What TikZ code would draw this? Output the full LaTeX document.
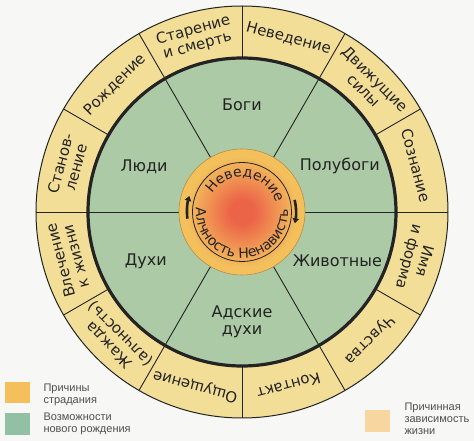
\documentclass[tikz,border=0pt]{standalone}
\usepackage{fontspec}
\setmainfont{DejaVu Sans}
\newfontfamily\legendfont{Liberation Sans}
\usetikzlibrary{decorations.text, arrows.meta}
\definecolor{paper}{RGB}{247,247,245}
\definecolor{ringyellow}{RGB}{243,222,152}
\definecolor{realmgreen}{RGB}{172,202,166}
\definecolor{legendgreen}{RGB}{145,192,165}
\definecolor{causeorange}{RGB}{243,192,92}
\definecolor{glowred}{RGB}{236,100,72}
\definecolor{chainpeach}{RGB}{248,214,160}
\definecolor{inkgray}{RGB}{35,35,35}
\pgfdeclareradialshading{sunglow}{\pgfpoint{0bp}{0bp}}{color(0bp)=(glowred); color(5bp)=(glowred); color(22bp)=(causeorange); color(50bp)=(causeorange)}

\begin{document}
\begin{tikzpicture}[x=1pt,y=1pt]
	\tikzstyle{sectorlabel} = [font=\fontsize{16}{17}\selectfont, text=inkgray, align=center]
	\tikzstyle{linklabel} = [font=\fontsize{15}{16}\selectfont, text=inkgray, align=center]
	\tikzstyle{legendlabel} = [font=\legendfont\fontsize{11}{12}\selectfont, text=inkgray!80, align=left, anchor=west]
	\tikzstyle{swatch} = [minimum width=25pt, minimum height=21pt, inner sep=0pt]
	\tikzstyle{divider} = [draw=inkgray, line width=0.9pt]
	\tikzstyle{turn} = [-{Triangle[length=5pt,width=6.5pt]}, line width=2.6pt, inkgray]
	\useasboundingbox (-242,-229) rectangle (232,212);
	\fill[paper] (-242,-229) rectangle (232,212);
	\filldraw[fill=ringyellow, draw=inkgray, line width=1pt] (0,0) circle (206);
	\filldraw[fill=realmgreen, draw=inkgray, line width=3.2pt] (0,0) circle (154);
	\foreach \a in {0,30,...,330}
		\draw[divider] (\a:154) -- (\a:206);
	\foreach \a in {0,60,...,300}
		\draw[divider] (\a:63) -- (\a:154);
	\shade[shading=sunglow] (0,0) circle (63);
	\draw[causeorange!75!black, line width=0.6pt] (0,0) circle (63);
	\draw[inkgray, line width=0.8pt] (0,0) circle (49.5);
	\path[decorate, decoration={text along path, text align=center,
		text={|\color{inkgray}\fontsize{14}{14}\selectfont|Неведение}}] (146:35) arc (146:18:35);
	\path[decorate, decoration={text along path, text align=center,
		text={|\color{inkgray}\fontsize{14}{14}\selectfont|Алчность Ненависть}}] (158:46) arc (158:380:46);
	\draw[turn] (187:55) arc (187:163:55);
	\draw[turn] (13:54) arc (13:-12:54);
	\node[sectorlabel] (gods) at (90:107) {Боги};
	\node[sectorlabel] (demigods) at (25:108) {Полубоги};
	\node[sectorlabel] (animals) at (-27:107) {Животные};
	\node[sectorlabel] (hells) at (-90:110) {Адские\\духи};
	\node[sectorlabel] (ghosts) at (-153:108) {Духи};
	\node[sectorlabel] (humans) at (155:108) {Люди};
	\node[linklabel, rotate=-15] (ignorance) at (75:180) {Неведение};
	\node[linklabel, rotate=-45] (formations) at (45:180) {Движущие\\силы};
	\node[linklabel, rotate=-75] (consciousness) at (15:180) {Сознание};
	\node[linklabel, rotate=-105] (nameform) at (-15:180) {Имя\\и форма};
	\node[linklabel, rotate=-135] (senses) at (-45:180) {Чувства};
	\node[linklabel, rotate=-165] (contact) at (-75:180) {Контакт};
	\node[linklabel, rotate=165] (feeling) at (-105:180) {Ощущение};
	\node[linklabel, rotate=135] (craving) at (-135:180) {Жажда\\(алчность)};
	\node[linklabel, rotate=105] (grasping) at (-165:180) {Влечение\\к жизни};
	\node[linklabel, rotate=75] (becoming) at (165:180) {Станов-\\ление};
	\node[linklabel, rotate=45] (birth) at (135:180) {Рождение};
	\node[linklabel, rotate=15] (aging) at (105:180) {Старение\\и смерть};
	\node[swatch, fill=causeorange] (suffering) at (-224.5,-181) {};
	\node[legendlabel] (sufferingtext) at (-202,-183) {Причины\\страдания};
	\node[swatch, fill=legendgreen] (rebirth) at (-224.5,-212) {};
	\node[legendlabel] (rebirthtext) at (-202,-211.5) {Возможности\\нового рождения};
	\node[swatch, fill=chainpeach] (chain) at (135.5,-209) {};
	\node[legendlabel] (chaintext) at (159,-207) {Причинная\\зависимость\\жизни};
\end{tikzpicture}
\end{document}
